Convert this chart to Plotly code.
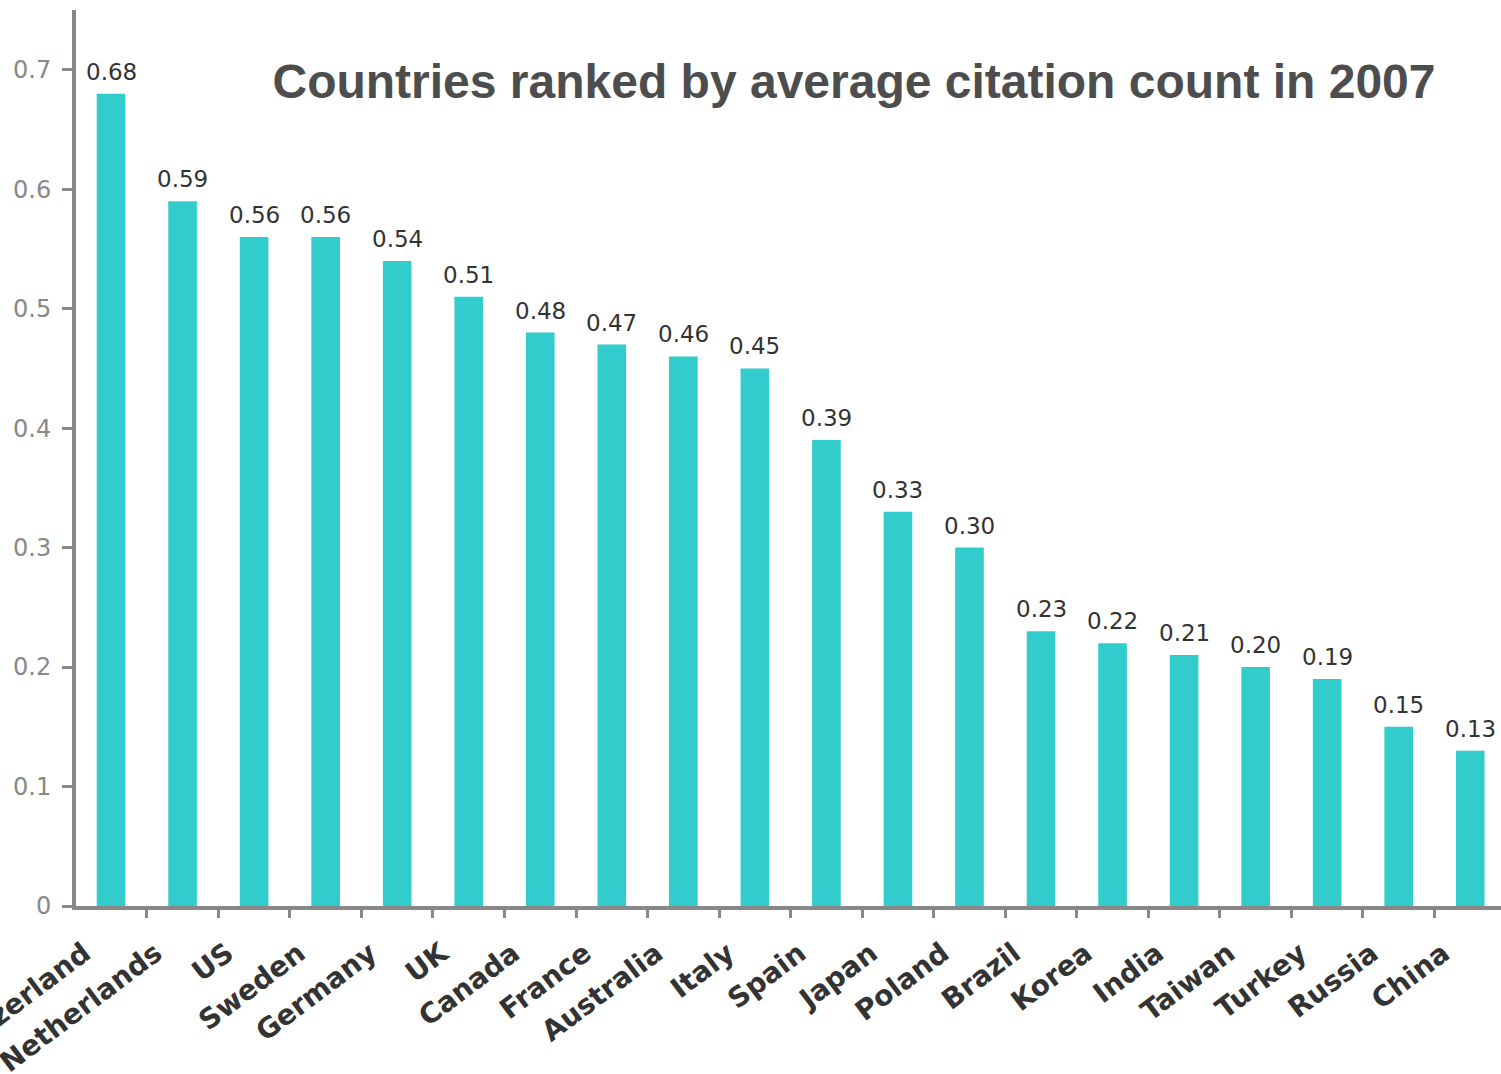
import plotly.graph_objects as go

countries = ["Switzerland", "Netherlands", "US", "Sweden", "Germany", "UK", "Canada",
             "France", "Australia", "Italy", "Spain", "Japan", "Poland", "Brazil",
             "Korea", "India", "Taiwan", "Turkey", "Russia", "China"]
values = [0.68, 0.59, 0.56, 0.56, 0.54, 0.51, 0.48, 0.47, 0.46, 0.45, 0.39, 0.33,
          0.30, 0.23, 0.22, 0.21, 0.20, 0.19, 0.15, 0.13]
labels = [f"{v:.2f}" for v in values]
y_ticks = [0, 0.1, 0.2, 0.3, 0.4, 0.5, 0.6, 0.7]
y_tick_text = ["0", "0.1", "0.2", "0.3", "0.4", "0.5", "0.6", "0.7"]
title = "Countries ranked by average citation count in 2007"

fig = go.Figure(go.Bar(
    x=countries, y=values,
    marker=dict(color="#33CCCC", line=dict(width=0)),
    width=0.4,
))

for c, v, t in zip(countries, values, labels):
    fig.add_annotation(x=c, y=v, text=t, showarrow=False, yanchor="bottom",
                       xanchor="center", yshift=7,
                       font=dict(family="DejaVu Sans", size=23, color="#333333"))

fig.update_layout(
    width=1501, height=1074,
    margin=dict(l=76, r=0, t=10, b=168),
    plot_bgcolor="white", paper_bgcolor="white",
    showlegend=False,
    title=dict(text=title, x=854/1501, xref="container", xanchor="center",
               y=1 - 81/1074, yref="container", yanchor="middle",
               font=dict(family="Liberation Sans", size=48, color="#4d4d4d", weight="bold")),
)
fig.update_xaxes(
    range=[-0.49, 19.43], showline=True, linecolor="#888888", linewidth=4,
    ticks="outside", tickson="boundaries", ticklen=8, tickwidth=3, tickcolor="#888888",
    tickangle=-37, showgrid=False, automargin=False,
    tickfont=dict(family="DejaVu Sans", size=28, color="#333333", weight="bold"),
    ticklabelstandoff=16, ticklabelshift=-27,
)
fig.update_yaxes(
    range=[0, 0.75], showline=True, linecolor="#888888", linewidth=4,
    ticks="outside", ticklen=10, tickwidth=3, tickcolor="#888888",
    tickvals=y_ticks, ticktext=y_tick_text, showgrid=False, zeroline=False,
    automargin=False,
    tickfont=dict(family="DejaVu Sans", size=24, color="#888888"),
    ticklabelstandoff=6,
)

fig.write_html("out.html", config={"displayModeBar": False},
               post_script="document.body.style.margin='0';document.body.style.overflow='hidden';")
